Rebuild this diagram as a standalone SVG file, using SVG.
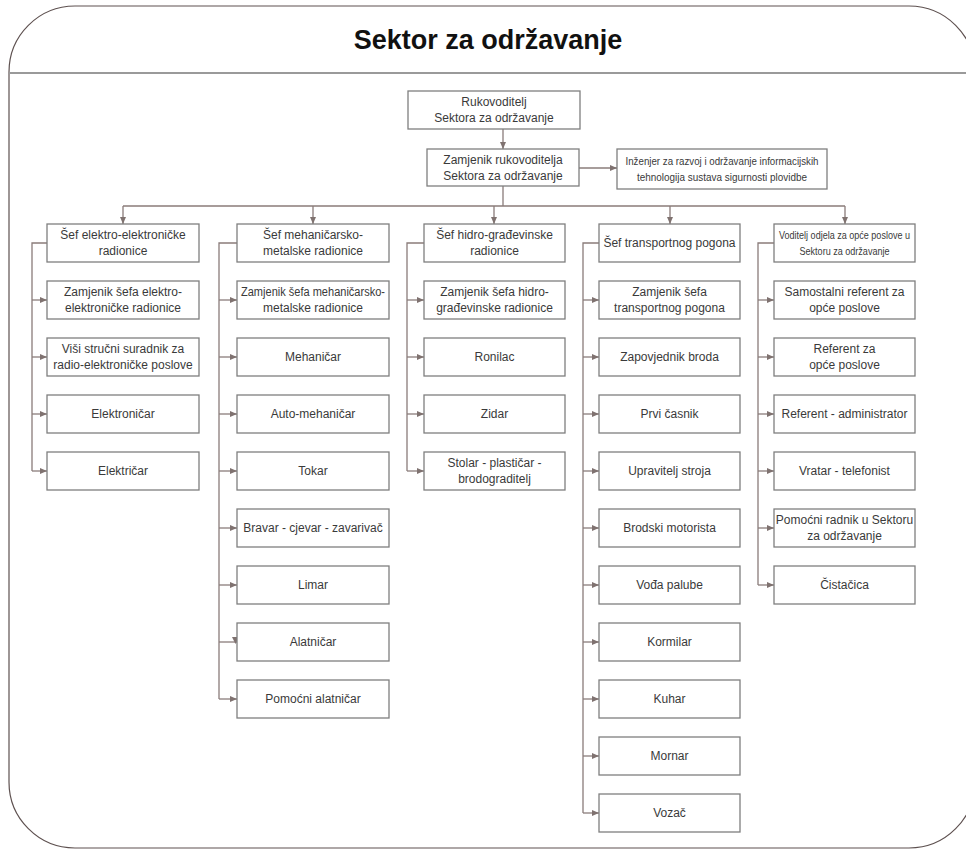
<svg xmlns="http://www.w3.org/2000/svg" width="966" height="850" viewBox="0 0 966 850">
<style>
.frame{fill:#fff;stroke:#5e5150;stroke-width:1.2}
.sep{stroke:#9a9a9a;stroke-width:2}
.box{fill:#fff;stroke:#7f7f7f;stroke-width:1.3}
.t{font-family:"Liberation Sans",Arial,sans-serif;font-size:12px;fill:#3a3a3a;text-anchor:middle}
.s{font-size:11px}
.title{font-family:"Liberation Sans",Arial,sans-serif;font-size:27px;font-weight:bold;fill:#111;text-anchor:middle}
.c{fill:none;stroke:#8a7c7a;stroke-width:1.3}
.a{fill:none;stroke:#8a7c7a;stroke-width:1.3;marker-end:url(#ar)}
</style>
<defs>
<marker id="ar" markerWidth="7" markerHeight="6" refX="7" refY="3" orient="auto" markerUnits="userSpaceOnUse">
<path d="M0,0 L7,3 L0,6 z" fill="#7f7270"/>
</marker>
</defs>
<rect class="frame" x="9" y="6" width="966" height="842" rx="66" ry="66"/>
<line class="sep" x1="9" y1="73" x2="966" y2="73"/>
<text class="title" x="488" y="49">Sektor za održavanje</text>

<g id="connectors">
<path class="a" d="M503,129 V149"/>
<path class="a" d="M579,168 H617"/>
<path class="c" d="M503,186 V206 M123,206 H845"/>
<path class="a" d="M123,206 V224"/>
<path class="a" d="M313,206 V224"/>
<path class="a" d="M494,206 V224"/>
<path class="a" d="M670,206 V224"/>
<path class="a" d="M845,206 V224"/>
<!-- col1 -->
<path class="c" d="M47,243 H32 V471"/>
<path class="a" d="M32,300 H47"/><path class="a" d="M32,357 H47"/><path class="a" d="M32,414 H47"/><path class="a" d="M32,471 H47"/>
<!-- col2 -->
<path class="c" d="M237,243 H219 V699"/>
<path class="a" d="M219,300 H237"/><path class="a" d="M219,357 H237"/><path class="a" d="M219,414 H237"/><path class="a" d="M219,471 H237"/><path class="a" d="M219,528 H237"/><path class="a" d="M219,585 H237"/>
<path class="c" d="M219,642 H237"/><path d="M232,637 L239,637 L235.5,644 z" fill="#7f7270"/>
<path class="a" d="M219,699 H237"/>
<!-- col3 -->
<path class="c" d="M424,243 H407 V471"/>
<path class="a" d="M407,300 H424"/><path class="a" d="M407,357 H424"/><path class="a" d="M407,414 H424"/><path class="a" d="M407,471 H424"/>
<!-- col4 -->
<path class="c" d="M599,243 H583 V813"/>
<path class="a" d="M583,300 H599"/><path class="a" d="M583,357 H599"/><path class="a" d="M583,414 H599"/><path class="a" d="M583,471 H599"/><path class="a" d="M583,528 H599"/><path class="a" d="M583,585 H599"/><path class="a" d="M583,642 H599"/><path class="a" d="M583,699 H599"/><path class="a" d="M583,756 H599"/><path class="a" d="M583,813 H599"/>
<!-- col5 -->
<path class="c" d="M774,243 H758 V585"/>
<path class="a" d="M758,300 H774"/><path class="a" d="M758,357 H774"/><path class="a" d="M758,414 H774"/><path class="a" d="M758,471 H774"/><path class="a" d="M758,528 H774"/><path class="a" d="M758,585 H774"/>
</g>

<g id="rukovoditelj"><rect class="box" x="408" y="91" width="172" height="38"/><text class="t" x="494" y="106">Rukovoditelj</text><text class="t" x="494" y="122">Sektora za održavanje</text></g>
<g id="zamjenik"><rect class="box" x="427" y="149" width="152" height="37"/><text class="t" x="503" y="163.5">Zamjenik rukovoditelja</text><text class="t" x="503" y="179.5">Sektora za održavanje</text></g>
<g id="inzenjer"><rect class="box" x="617" y="149" width="210" height="40"/><text class="t s" x="722" y="165" textLength="193" lengthAdjust="spacingAndGlyphs">Inženjer za razvoj i održavanje informacijskih</text><text class="t s" x="722" y="181" textLength="170" lengthAdjust="spacingAndGlyphs">tehnologija sustava sigurnosti plovidbe</text></g>

<!-- column 1 -->
<g id="c1n0"><rect class="box" x="47" y="224" width="152" height="38"/><text class="t" x="123" y="239">Šef elektro-elektroničke</text><text class="t" x="123" y="255">radionice</text></g>
<g id="c1n1"><rect class="box" x="47" y="281" width="152" height="38"/><text class="t" x="123" y="296">Zamjenik šefa elektro-</text><text class="t" x="123" y="312">elektroničke radionice</text></g>
<g id="c1n2"><rect class="box" x="47" y="338" width="152" height="38"/><text class="t" x="123" y="353">Viši stručni suradnik za</text><text class="t" x="123" y="369">radio-elektroničke poslove</text></g>
<g id="c1n3"><rect class="box" x="47" y="395" width="152" height="38"/><text class="t" x="123" y="418">Elektroničar</text></g>
<g id="c1n4"><rect class="box" x="47" y="452" width="152" height="38"/><text class="t" x="123" y="475">Električar</text></g>

<!-- column 2 -->
<g id="c2n0"><rect class="box" x="237" y="224" width="152" height="38"/><text class="t" x="313" y="239">Šef mehaničarsko-</text><text class="t" x="313" y="255">metalske radionice</text></g>
<g id="c2n1"><rect class="box" x="237" y="281" width="152" height="38"/><text class="t" x="313" y="296" textLength="144" lengthAdjust="spacingAndGlyphs">Zamjenik šefa mehaničarsko-</text><text class="t" x="313" y="312">metalske radionice</text></g>
<g id="c2n2"><rect class="box" x="237" y="338" width="152" height="38"/><text class="t" x="313" y="361">Mehaničar</text></g>
<g id="c2n3"><rect class="box" x="237" y="395" width="152" height="38"/><text class="t" x="313" y="418">Auto-mehaničar</text></g>
<g id="c2n4"><rect class="box" x="237" y="452" width="152" height="38"/><text class="t" x="313" y="475">Tokar</text></g>
<g id="c2n5"><rect class="box" x="237" y="509" width="152" height="38"/><text class="t" x="313" y="532">Bravar - cjevar - zavarivač</text></g>
<g id="c2n6"><rect class="box" x="237" y="566" width="152" height="38"/><text class="t" x="313" y="589">Limar</text></g>
<g id="c2n7"><rect class="box" x="237" y="623" width="152" height="38"/><text class="t" x="313" y="646">Alatničar</text></g>
<g id="c2n8"><rect class="box" x="237" y="680" width="152" height="38"/><text class="t" x="313" y="703">Pomoćni alatničar</text></g>

<!-- column 3 -->
<g id="c3n0"><rect class="box" x="424" y="224" width="141" height="38"/><text class="t" x="494.5" y="239">Šef hidro-građevinske</text><text class="t" x="494.5" y="255">radionice</text></g>
<g id="c3n1"><rect class="box" x="424" y="281" width="141" height="38"/><text class="t" x="494.5" y="296">Zamjenik šefa hidro-</text><text class="t" x="494.5" y="312">građevinske radionice</text></g>
<g id="c3n2"><rect class="box" x="424" y="338" width="141" height="38"/><text class="t" x="494.5" y="361">Ronilac</text></g>
<g id="c3n3"><rect class="box" x="424" y="395" width="141" height="38"/><text class="t" x="494.5" y="418">Zidar</text></g>
<g id="c3n4"><rect class="box" x="424" y="452" width="141" height="38"/><text class="t" x="494.5" y="467">Stolar - plastičar -</text><text class="t" x="494.5" y="483">brodograditelj</text></g>

<!-- column 4 -->
<g id="c4n0"><rect class="box" x="599" y="224" width="141" height="38"/><text class="t" x="669.5" y="247">Šef transportnog pogona</text></g>
<g id="c4n1"><rect class="box" x="599" y="281" width="141" height="38"/><text class="t" x="669.5" y="296">Zamjenik šefa</text><text class="t" x="669.5" y="312">transportnog pogona</text></g>
<g id="c4n2"><rect class="box" x="599" y="338" width="141" height="38"/><text class="t" x="669.5" y="361">Zapovjednik broda</text></g>
<g id="c4n3"><rect class="box" x="599" y="395" width="141" height="38"/><text class="t" x="669.5" y="418">Prvi časnik</text></g>
<g id="c4n4"><rect class="box" x="599" y="452" width="141" height="38"/><text class="t" x="669.5" y="475">Upravitelj stroja</text></g>
<g id="c4n5"><rect class="box" x="599" y="509" width="141" height="38"/><text class="t" x="669.5" y="532">Brodski motorista</text></g>
<g id="c4n6"><rect class="box" x="599" y="566" width="141" height="38"/><text class="t" x="669.5" y="589">Vođa palube</text></g>
<g id="c4n7"><rect class="box" x="599" y="623" width="141" height="38"/><text class="t" x="669.5" y="646">Kormilar</text></g>
<g id="c4n8"><rect class="box" x="599" y="680" width="141" height="38"/><text class="t" x="669.5" y="703">Kuhar</text></g>
<g id="c4n9"><rect class="box" x="599" y="737" width="141" height="38"/><text class="t" x="669.5" y="760">Mornar</text></g>
<g id="c4n10"><rect class="box" x="599" y="794" width="141" height="38"/><text class="t" x="669.5" y="817">Vozač</text></g>

<!-- column 5 -->
<g id="c5n0"><rect class="box" x="774" y="224" width="141" height="38"/><text class="t s" x="844.5" y="239" textLength="131" lengthAdjust="spacingAndGlyphs">Voditelj odjela za opće poslove u</text><text class="t s" x="844.5" y="255" textLength="90" lengthAdjust="spacingAndGlyphs">Sektoru za održavanje</text></g>
<g id="c5n1"><rect class="box" x="774" y="281" width="141" height="38"/><text class="t" x="844.5" y="296">Samostalni referent za</text><text class="t" x="844.5" y="312">opće poslove</text></g>
<g id="c5n2"><rect class="box" x="774" y="338" width="141" height="38"/><text class="t" x="844.5" y="353">Referent za</text><text class="t" x="844.5" y="369">opće poslove</text></g>
<g id="c5n3"><rect class="box" x="774" y="395" width="141" height="38"/><text class="t" x="844.5" y="418">Referent - administrator</text></g>
<g id="c5n4"><rect class="box" x="774" y="452" width="141" height="38"/><text class="t" x="844.5" y="475">Vratar - telefonist</text></g>
<g id="c5n5"><rect class="box" x="774" y="509" width="141" height="38"/><text class="t" x="844.5" y="524">Pomoćni radnik u Sektoru</text><text class="t" x="844.5" y="540">za održavanje</text></g>
<g id="c5n6"><rect class="box" x="774" y="566" width="141" height="38"/><text class="t" x="844.5" y="589">Čistačica</text></g>
</svg>
